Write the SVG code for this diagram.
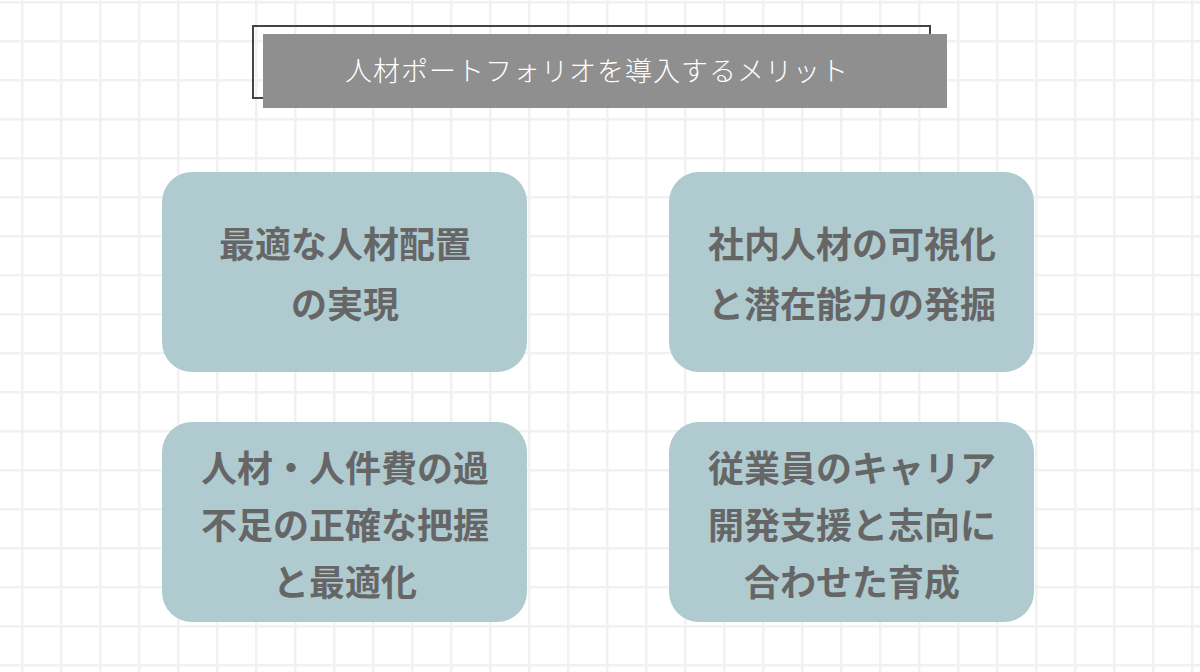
<svg xmlns="http://www.w3.org/2000/svg" width="1200" height="672" viewBox="0 0 1200 672">
<defs>
<pattern id="grid" x="21" y="1" width="39" height="39" patternUnits="userSpaceOnUse">
<path d="M0 0V39M0 0H39" stroke="#f1f1f1" stroke-width="5" fill="none"/>
</pattern>
<style>
.box{fill:#afcbd0}
.t{font-family:"Noto Sans CJK JP",sans-serif;font-weight:700;font-size:36px;fill:#666;text-anchor:middle}
</style>
</defs>
<rect width="1200" height="672" fill="#fff"/>
<rect width="1200" height="672" fill="url(#grid)"/>
<g id="title">
<rect x="253" y="26" width="677" height="72" fill="none" stroke="#444" stroke-width="2"/>
<rect x="263" y="34" width="684" height="74" fill="#8f8f8f"/>
<text x="597" y="81" font-family="Noto Sans CJK JP,sans-serif" font-size="27" font-weight="300" fill="#fff" text-anchor="middle" letter-spacing="1">人材ポートフォリオを導入するメリット</text>
</g>
<g id="n1"><rect class="box" x="162" y="172" width="365" height="200" rx="30"/>
<text class="t" x="345" y="258">最適な人材配置</text><text class="t" x="345" y="318">の実現</text></g>
<g id="n2"><rect class="box" x="669" y="172" width="365" height="200" rx="30"/>
<text class="t" x="852" y="258">社内人材の可視化</text><text class="t" x="852" y="318">と潜在能力の発掘</text></g>
<g id="n3"><rect class="box" x="162" y="422" width="365" height="200" rx="30"/>
<text class="t" x="345" y="482">人材・人件費の過</text><text class="t" x="345" y="539">不足の正確な把握</text><text class="t" x="345" y="596">と最適化</text></g>
<g id="n4"><rect class="box" x="669" y="422" width="365" height="200" rx="30"/>
<text class="t" x="852" y="482">従業員のキャリア</text><text class="t" x="852" y="539">開発支援と志向に</text><text class="t" x="852" y="596">合わせた育成</text></g>
<g id="connectors"/>
</svg>
